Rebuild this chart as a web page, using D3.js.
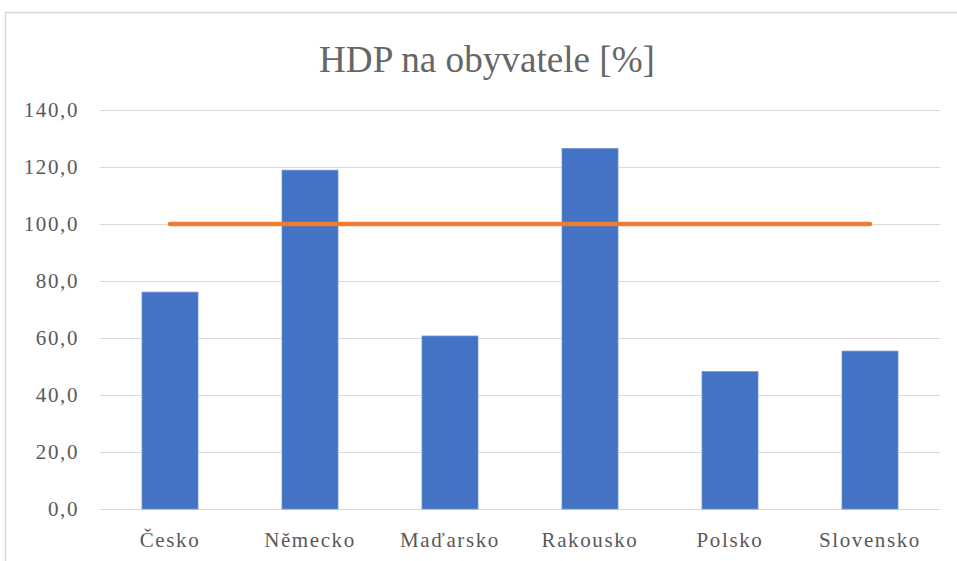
<!DOCTYPE html>
<html lang="cs">
<head>
<meta charset="utf-8">
<title>HDP na obyvatele</title>
<script src="https://d3js.org/d3.v7.min.js"></script>
<style>
  body { margin: 0; background: #fff; }
  text { font-family: "Liberation Serif", "DejaVu Serif", serif; fill: #595959; }
</style>
</head>
<body>
<div id="chart"></div>
<script>
// data
const countries = ["Česko", "Německo", "Maďarsko", "Rakousko", "Polsko", "Slovensko"];
const hdp = [76.1, 118.9, 60.7, 126.5, 48.2, 55.4];
const average = [100, 100, 100, 100, 100, 100];
const yTicks = [0, 20, 40, 60, 80, 100, 120, 140];

const W = 957, H = 561;
const margin = { top: 110, right: 17, bottom: 52, left: 100 };
const width = W - margin.left - margin.right;
const height = H - margin.top - margin.bottom;

const svg = d3.select("#chart").append("svg")
  .attr("width", W).attr("height", H);

// chart border
svg.append("rect")
  .attr("x", 5.5).attr("y", 12.5)
  .attr("width", W + 10).attr("height", H - 7)
  .attr("fill", "none").attr("stroke", "#d9d9d9").attr("stroke-width", 1.5);

svg.append("text")
  .attr("x", 487).attr("y", 72)
  .attr("text-anchor", "middle")
  .attr("font-size", 38)
  .attr("textLength", 336).attr("lengthAdjust", "spacingAndGlyphs")
  .style("fill", "#666")
  .text("HDP na obyvatele [%]");

const g = svg.append("g").attr("transform", `translate(${margin.left},${margin.top})`);

const x = d3.scaleBand().domain(countries).range([0, width]).paddingInner(0.6).paddingOuter(0.3);
const y = d3.scaleLinear().domain([0, 140]).range([height, 0]);

// gridlines
g.append("g").selectAll("line").data(yTicks).join("line")
  .attr("x1", 0).attr("x2", width)
  .attr("y1", d => Math.round(y(d)) + 0.5).attr("y2", d => Math.round(y(d)) + 0.5)
  .attr("stroke", "#d9d9d9").attr("stroke-width", 1);

// y labels
const fmt = d => d3.format(".1f")(d).replace(".", ",");
g.append("g").selectAll("text").data(yTicks).join("text")
  .attr("x", -21).attr("y", d => y(d))
  .attr("dy", "0.35em")
  .attr("text-anchor", "end")
  .attr("font-size", 21)
  .attr("letter-spacing", 1.6)
  .text(fmt);

// bars
g.append("g").selectAll("rect").data(countries).join("rect")
  .attr("x", d => x(d))
  .attr("y", (d, i) => y(hdp[i]))
  .attr("width", x.bandwidth())
  .attr("height", (d, i) => height - y(hdp[i]))
  .attr("fill", "#4472c4")
  .attr("stroke", "#6f93d4").attr("stroke-width", 0.8);

// x labels
g.append("g").selectAll("text").data(countries).join("text")
  .attr("x", d => x(d) + x.bandwidth() / 2)
  .attr("y", height + 38)
  .attr("text-anchor", "middle")
  .attr("font-size", 21)
  .attr("letter-spacing", 1.6)
  .text(d => d);

// average line
const line = d3.line()
  .x((d, i) => x(countries[i]) + x.bandwidth() / 2)
  .y(d => y(d));
g.append("path").datum(average)
  .attr("d", line)
  .attr("fill", "none")
  .attr("stroke", "#ed7d31").attr("stroke-width", 4.5)
  .attr("stroke-linecap", "round");
</script>
</body>
</html>
